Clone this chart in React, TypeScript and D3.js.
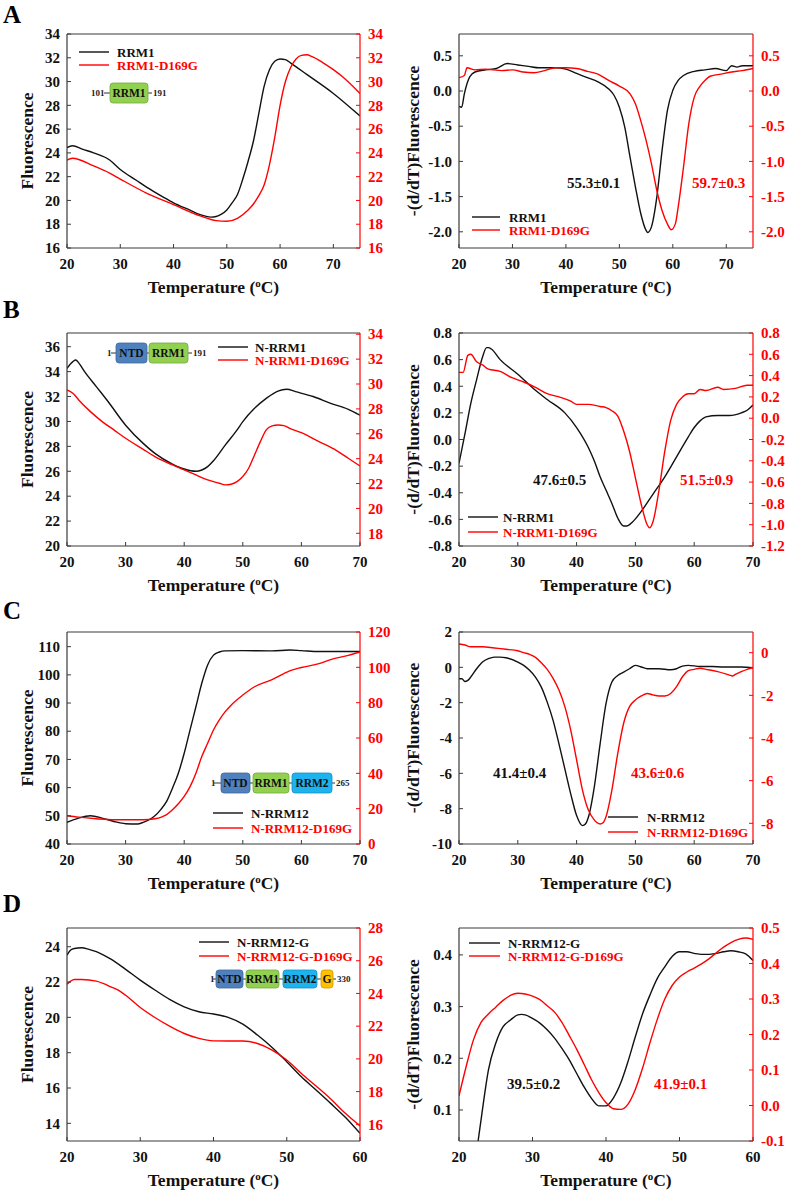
import React from "react";
import * as d3 from "d3";

type Pt = [number, number];

// ---------- Panel A ----------
const aFluoRRM1: Pt[] = [[20,24.44],[21,24.6],[23,24.3],[25,24.0],[28,23.4],[30,22.6],[33,21.7],[35,21.1],[38,20.3],[40,19.8],[43,19.2],[45,18.8],[47,18.6],[48,18.65],[49,18.85],[50,19.2],[51,19.8],[52,20.5],[53,21.8],[54,23.3],[55,25.0],[56,27.3],[57,29.6],[58,31.0],[59,31.7],[60,31.9],[61,31.85],[62,31.55],[65,30.6],[70,29.0],[75,27.1]];
const aFluoD169G: Pt[] = [[20,23.4],[21,23.55],[25,22.9],[28,22.3],[30,21.8],[35,20.6],[40,19.65],[45,18.7],[48,18.3],[50,18.25],[52,18.5],[54,19.2],[55,19.7],[56,20.4],[57,21.3],[58,23.0],[59,25.3],[60,28.0],[61,30.0],[62,31.2],[63,31.9],[64,32.2],[65,32.25],[66,32.1],[68,31.6],[70,31.0],[72,30.3],[75,29.0]];
const aDerivRRM1: Pt[] = [[20,-0.22],[20.5,-0.23],[21,-0.04],[22,0.2],[23,0.27],[25,0.3],[27,0.32],[29,0.39],[31,0.37],[33,0.35],[35,0.33],[38,0.33],[40,0.31],[42,0.25],[44,0.19],[46,0.13],[48,0.03],[49,-0.06],[50,-0.23],[51,-0.51],[52,-0.94],[53,-1.36],[54,-1.74],[55,-1.98],[55.3,-2.01],[56,-1.93],[57,-1.51],[58,-0.84],[59,-0.27],[60,0.01],[61,0.15],[62,0.22],[64,0.28],[66,0.3],[68,0.32],[70,0.29],[71,0.36],[72,0.34],[73,0.36],[75,0.36]];
const aDerivD169G: Pt[] = [[20,0.19],[21,0.22],[21.5,0.33],[23,0.3],[25,0.31],[28,0.29],[30,0.3],[32,0.27],[34,0.26],[36,0.29],[38,0.33],[40,0.33],[42,0.32],[44,0.28],[46,0.24],[48,0.15],[50,0.07],[52,-0.04],[53,-0.18],[54,-0.42],[55,-0.7],[56,-1.03],[57,-1.41],[58,-1.7],[59,-1.89],[59.7,-1.97],[60.5,-1.88],[61,-1.65],[62,-1.08],[63,-0.46],[64,-0.09],[65,0.06],[66,0.15],[67,0.21],[69,0.24],[71,0.27],[73,0.29],[75,0.32]];

// ---------- Panel B ----------
const bFluoNRRM1: Pt[] = [[20,34.26],[21,34.8],[21.5,34.93],[22,34.7],[23,34.0],[25,32.8],[27,31.6],[30,29.7],[33,28.24],[35,27.44],[38,26.58],[40,26.18],[42,26.0],[43,26.1],[44,26.37],[45,26.85],[47,28.1],[49,29.3],[50,29.98],[52,31.05],[54,31.85],[56,32.44],[57.5,32.58],[59,32.39],[62,32.0],[65,31.45],[68,30.97],[70,30.5]];
const bFluoD169G: Pt[] = [[20,29.52],[21,29.26],[22,28.72],[24,27.78],[26,26.98],[28,26.31],[30,25.64],[33,24.75],[35,24.16],[38,23.5],[40,23.1],[42,22.69],[44,22.29],[46,22.02],[47,21.89],[48,21.94],[49,22.15],[50,22.56],[51,23.23],[52,24.3],[53,25.37],[54,26.31],[55,26.63],[56,26.71],[57,26.66],[58,26.44],[60,26.09],[63,25.37],[66,24.65],[68,24.03],[70,23.41]];
const bDerivNRRM1: Pt[] = [[20,-0.18],[21,0.04],[22,0.27],[23,0.45],[24,0.62],[24.7,0.69],[25,0.69],[25.5,0.68],[27,0.6],[30,0.49],[33,0.37],[35,0.3],[38,0.2],[40,0.09],[42,-0.06],[43,-0.16],[44,-0.28],[45,-0.38],[46,-0.48],[47,-0.59],[48,-0.65],[48.5,-0.65],[49.5,-0.62],[51,-0.54],[53,-0.41],[55,-0.28],[57,-0.13],[59,0.02],[60,0.09],[61,0.14],[62,0.17],[64,0.18],[66,0.18],[68,0.2],[69,0.22],[70,0.26]];
const bDerivD169G: Pt[] = [[20,0.43],[20.7,0.43],[21.5,0.59],[22,0.6],[23,0.53],[24,0.5],[25,0.46],[27,0.44],[29,0.38],[31,0.34],[33,0.29],[35,0.23],[37,0.2],[39,0.16],[40,0.13],[42,0.13],[44,0.11],[45,0.1],[46,0.07],[47,0.02],[48,-0.12],[49,-0.31],[50,-0.56],[51,-0.81],[52,-1.0],[52.4,-1.03],[53,-0.97],[54,-0.68],[55,-0.31],[56,-0.02],[57,0.13],[58,0.2],[59,0.23],[60,0.23],[61,0.27],[62,0.26],[64,0.29],[65,0.27],[67,0.28],[69,0.31],[70,0.31]];

// ---------- Panel C ----------
const cFluoNRRM12: Pt[] = [[20,47.67],[22,49.2],[24,50.0],[26,49.2],[28,48.0],[30,47.2],[32,47.1],[33,47.67],[34,48.6],[35,50.0],[36,52.2],[37,55.1],[38,59.8],[39,65.1],[40,72.2],[41,80.5],[42,88.7],[43,97.0],[44,103.5],[45,107.0],[46,108.1],[47,108.5],[50,108.6],[55,108.5],[58,108.8],[60,108.6],[63,108.3],[70,108.3]];
const cFluoD169G: Pt[] = [[20,16.0],[22,15.2],[25,14.3],[28,13.7],[30,13.7],[33,13.7],[35,14.3],[36,15.1],[37,16.6],[38,19.4],[39,22.8],[40,26.9],[41,32.5],[42,40.1],[43,49.5],[44,57.0],[45,64.5],[46,70.2],[47,74.9],[48,78.6],[50,84.3],[52,89.0],[55,93.1],[57,96.5],[58,98.0],[60,99.9],[63,102.1],[65,104.4],[68,106.8],[70,108.7]];
const cDerivNRRM12: Pt[] = [[20,-0.65],[20.5,-0.65],[21,-0.8],[21.5,-0.74],[22,-0.55],[23,-0.08],[24,0.3],[25,0.49],[26,0.58],[27,0.58],[28,0.54],[30,0.3],[31,0.11],[32,-0.17],[33,-0.55],[34,-1.12],[35,-1.97],[36,-3.0],[37,-4.33],[38,-5.75],[39,-7.16],[40,-8.39],[41,-8.96],[41.5,-8.87],[42,-8.49],[43,-6.79],[44,-4.33],[45,-2.06],[46,-0.83],[47,-0.46],[48,-0.27],[49,-0.08],[50,0.11],[51,0.02],[52,-0.08],[54,-0.08],[56,-0.14],[57,-0.08],[58,0.07],[59,0.11],[61,0.05],[63,0.05],[65,0.02],[68,0.02],[70,-0.02]];
const cDerivD169G: Pt[] = [[20,0.41],[21,0.36],[22,0.28],[24,0.28],[26,0.22],[28,0.16],[30,0.09],[31,0.0],[32,-0.08],[33,-0.22],[34,-0.47],[35,-0.78],[36,-1.2],[37,-1.75],[38,-2.53],[39,-3.63],[40,-5.03],[41,-6.44],[42,-7.38],[43,-7.84],[44,-8.03],[44.5,-7.97],[45,-7.69],[46,-6.44],[47,-4.72],[48,-3.31],[49,-2.53],[50,-2.22],[51,-2.03],[52,-1.91],[53,-1.98],[54,-2.03],[55,-2.03],[56,-1.91],[57,-1.59],[58,-1.13],[59,-0.84],[60,-0.78],[61,-0.73],[62,-0.78],[64,-0.89],[66,-1.05],[66.5,-1.09],[67,-1.02],[68,-0.89],[69,-0.78],[70,-0.69]];

// ---------- Panel D ----------
const dFluoNRRM12G: Pt[] = [[20,23.53],[20.5,23.81],[21,23.9],[22,23.94],[23,23.85],[24,23.72],[25,23.53],[26,23.3],[28,22.72],[30,22.11],[32,21.55],[34,21.02],[36,20.6],[38,20.32],[40,20.19],[42,20.0],[44,19.62],[46,19.0],[48,18.3],[50,17.49],[52,16.64],[54,15.89],[56,15.13],[58,14.34],[60,13.43]];
const dFluoD169G: Pt[] = [[20,24.56],[20.5,24.75],[21,24.85],[22,24.85],[24,24.75],[25,24.6],[26,24.4],[27,24.2],[28,23.89],[30,23.14],[32,22.53],[34,22.0],[36,21.55],[38,21.25],[40,21.1],[42,21.09],[44,21.09],[46,20.94],[48,20.54],[50,19.93],[52,19.11],[54,18.34],[56,17.55],[58,16.67],[60,15.9]];
const dDerivNRRM12G: Pt[] = [[22.2,0.0],[22.6,0.04],[23,0.081],[23.5,0.132],[24,0.177],[25,0.229],[26,0.261],[27,0.274],[28,0.284],[28.5,0.285],[29,0.284],[30,0.277],[31,0.268],[32,0.255],[33,0.239],[34,0.219],[35,0.197],[36,0.171],[37,0.145],[38,0.123],[39,0.108],[40,0.108],[41,0.123],[42,0.152],[43,0.194],[44,0.242],[45,0.287],[46,0.323],[47,0.355],[48,0.377],[49,0.397],[50,0.406],[51,0.406],[52,0.403],[53,0.401],[54,0.401],[55,0.403],[56,0.406],[57,0.408],[58,0.406],[59,0.402],[60,0.389]];
const dDerivD169G: Pt[] = [[20,0.027],[21,0.112],[22,0.187],[23,0.234],[24,0.258],[25,0.277],[26,0.296],[27,0.31],[28,0.316],[29,0.314],[30,0.308],[31,0.298],[32,0.281],[33,0.263],[34,0.234],[35,0.197],[36,0.159],[37,0.117],[38,0.074],[39,0.037],[40,0.008],[41,-0.009],[42,-0.011],[43,0.004],[44,0.046],[45,0.107],[46,0.178],[47,0.244],[48,0.3],[49,0.338],[50,0.362],[51,0.376],[52,0.387],[53,0.399],[54,0.413],[55,0.43],[56,0.446],[57,0.459],[58,0.468],[59,0.472],[60,0.468]];

// ---------- Tick values ----------
const xTicks75 = [20, 30, 40, 50, 60, 70];
const xTicks70 = [20, 30, 40, 50, 60, 70];
const xTicks60 = [20, 30, 40, 50, 60];
const aFluoTicks = [16, 18, 20, 22, 24, 26, 28, 30, 32, 34];
const aDerivTicks = [-2.0, -1.5, -1.0, -0.5, 0.0, 0.5];
const bFluoLeftTicks = [20, 22, 24, 26, 28, 30, 32, 34, 36];
const bFluoRightTicks = [18, 20, 22, 24, 26, 28, 30, 32, 34];
const bDerivLeftTicks = [-0.8, -0.6, -0.4, -0.2, 0.0, 0.2, 0.4, 0.6, 0.8];
const bDerivRightTicks = [-1.2, -1.0, -0.8, -0.6, -0.4, -0.2, 0.0, 0.2, 0.4, 0.6, 0.8];
const cFluoLeftTicks = [40, 50, 60, 70, 80, 90, 100, 110];
const cFluoRightTicks = [0, 20, 40, 60, 80, 100, 120];
const cDerivLeftTicks = [-10, -8, -6, -4, -2, 0, 2];
const cDerivRightTicks = [-8, -6, -4, -2, 0];
const dFluoLeftTicks = [14, 16, 18, 20, 22, 24];
const dFluoRightTicks = [16, 18, 20, 22, 24, 26, 28];
const dDerivLeftTicks = [0.1, 0.2, 0.3, 0.4];
const dDerivRightTicks = [-0.1, 0.0, 0.1, 0.2, 0.3, 0.4, 0.5];

// ---------- Labels ----------
const tmAnnotations = {
  a: ["55.3±0.1", "59.7±0.3"],
  b: ["47.6±0.5", "51.5±0.9"],
  c: ["41.4±0.4", "43.6±0.6"],
  d: ["39.5±0.2", "41.9±0.1"],
};
const legendNames = {
  a: ["RRM1", "RRM1-D169G"],
  b: ["N-RRM1", "N-RRM1-D169G"],
  c: ["N-RRM12", "N-RRM12-D169G"],
  d: ["N-RRM12-G", "N-RRM12-G-D169G"],
};

const FONT = "'Liberation Serif', 'Times New Roman', Times, serif";
const RED = "#ff0000";
const FRAME = "#3a3a3a";

const C_NTD = "#4f81bd";
const C_RRM1 = "#92d050";
const C_RRM2 = "#1cb3ee";
const C_G = "#ffc000";

type Diag = {
  y0: number; y1: number;
  start: string; startX: number;
  end: string; endX: number;
  lineX0: number; lineX1: number;
  boxes: { label: string; x0: number; x1: number; fill: string }[];
};

type PanelCfg = {
  id: string;
  x0: number; x1: number; y0: number; y1: number;
  xDom: [number, number]; xTicks: number[];
  lDom: [number, number]; lTicks: number[]; lDec: number;
  rDom: [number, number]; rTicks: number[]; rDec: number;
  black: Pt[]; red: Pt[];
  yLabel: string; yLabelX: number;
  legend: { x0: number; x1: number; tx: number; y: [number, number]; names: string[] };
  ann?: { names: string[]; bx: number; rx: number; y: number };
  diag?: Diag;
  letter?: { t: string; y: number };
};

const rowA = { y0: 34, y1: 248 };
const rowB = { y0: 333, y1: 546 };
const rowC = { y0: 632, y1: 844 };
const rowD = { y0: 928, y1: 1141 };
const colL = { x0: 67, x1: 360 };
const colR = { x0: 459, x1: 753 };

const panels: PanelCfg[] = [
  {
    id: "aL", ...colL, ...rowA, xDom: [20, 75], xTicks: xTicks75,
    lDom: [16, 34], lTicks: aFluoTicks, lDec: 0, rDom: [16, 34], rTicks: aFluoTicks, rDec: 0,
    black: aFluoRRM1, red: aFluoD169G, yLabel: "Fluorescence", yLabelX: 27,
    legend: { x0: 79, x1: 109, tx: 117, y: [52, 65], names: legendNames.a },
    diag: { y0: 83, y1: 103, start: "101", startX: 91, end: "191", endX: 153, lineX0: 104, lineX1: 152,
      boxes: [{ label: "RRM1", x0: 110, x1: 148, fill: C_RRM1 }] },
    letter: { t: "A", y: 23 },
  },
  {
    id: "aR", ...colR, ...rowA, xDom: [20, 75], xTicks: xTicks75,
    lDom: [-2.23, 0.81], lTicks: aDerivTicks, lDec: 1, rDom: [-2.23, 0.81], rTicks: aDerivTicks, rDec: 1,
    black: aDerivRRM1, red: aDerivD169G, yLabel: "-(d/dT)Fluorescence", yLabelX: 413,
    legend: { x0: 472, x1: 500, tx: 509, y: [217, 230], names: legendNames.a },
    ann: { names: tmAnnotations.a, bx: 567, rx: 692, y: 188 },
  },
  {
    id: "bL", ...colL, ...rowB, xDom: [20, 70], xTicks: xTicks70,
    lDom: [20, 37.1], lTicks: bFluoLeftTicks, lDec: 0, rDom: [16.98, 34.1], rTicks: bFluoRightTicks, rDec: 0,
    black: bFluoNRRM1, red: bFluoD169G, yLabel: "Fluorescence", yLabelX: 27,
    legend: { x0: 218, x1: 248, tx: 255, y: [347, 360], names: legendNames.b },
    diag: { y0: 343, y1: 363, start: "1", startX: 107, end: "191", endX: 193, lineX0: 111, lineX1: 192,
      boxes: [{ label: "NTD", x0: 116, x1: 147, fill: C_NTD }, { label: "RRM1", x0: 149, x1: 188, fill: C_RRM1 }] },
    letter: { t: "B", y: 318 },
  },
  {
    id: "bR", ...colR, ...rowB, xDom: [20, 70], xTicks: xTicks70,
    lDom: [-0.8, 0.8], lTicks: bDerivLeftTicks, lDec: 1, rDom: [-1.2, 0.8], rTicks: bDerivRightTicks, rDec: 1,
    black: bDerivNRRM1, red: bDerivD169G, yLabel: "-(d/dT)Fluorescence", yLabelX: 413,
    legend: { x0: 468, x1: 498, tx: 503, y: [517, 532], names: legendNames.b },
    ann: { names: tmAnnotations.b, bx: 533, rx: 680, y: 485 },
  },
  {
    id: "cL", ...colL, ...rowC, xDom: [20, 70], xTicks: xTicks70,
    lDom: [40, 115.2], lTicks: cFluoLeftTicks, lDec: 0, rDom: [0, 120], rTicks: cFluoRightTicks, rDec: 0,
    black: cFluoNRRM12, red: cFluoD169G, yLabel: "Fluorescence", yLabelX: 27,
    legend: { x0: 213, x1: 243, tx: 251, y: [813, 828], names: legendNames.c },
    diag: { y0: 773, y1: 793, start: "1", startX: 211, end: "265", endX: 336, lineX0: 214, lineX1: 335,
      boxes: [{ label: "NTD", x0: 221, x1: 250, fill: C_NTD }, { label: "RRM1", x0: 253, x1: 289, fill: C_RRM1 }, { label: "RRM2", x0: 292, x1: 332, fill: C_RRM2 }] },
    letter: { t: "C", y: 619 },
  },
  {
    id: "cR", ...colR, ...rowC, xDom: [20, 70], xTicks: xTicks70,
    lDom: [-10, 2], lTicks: cDerivLeftTicks, lDec: 0, rDom: [-8.97, 0.97], rTicks: cDerivRightTicks, rDec: 0,
    black: cDerivNRRM12, red: cDerivD169G, yLabel: "-(d/dT)Fluorescence", yLabelX: 413,
    legend: { x0: 608, x1: 638, tx: 647, y: [817, 832], names: legendNames.c },
    ann: { names: tmAnnotations.c, bx: 493, rx: 631, y: 778 },
  },
  {
    id: "dL", ...colL, ...rowD, xDom: [20, 60], xTicks: xTicks60,
    lDom: [13.0, 25.06], lTicks: dFluoLeftTicks, lDec: 0, rDom: [14.98, 28], rTicks: dFluoRightTicks, rDec: 0,
    black: dFluoNRRM12G, red: dFluoD169G, yLabel: "Fluorescence", yLabelX: 27,
    legend: { x0: 199, x1: 229, tx: 237, y: [942, 956], names: legendNames.d },
    diag: { y0: 970, y1: 988, start: "1", startX: 210, end: "330", endX: 337, lineX0: 213, lineX1: 336,
      boxes: [{ label: "NTD", x0: 216, x1: 243, fill: C_NTD }, { label: "RRM1", x0: 246, x1: 279, fill: C_RRM1 }, { label: "RRM2", x0: 283, x1: 317, fill: C_RRM2 }, { label: "G", x0: 321, x1: 333, fill: C_G }] },
    letter: { t: "D", y: 912 },
  },
  {
    id: "dR", ...colR, ...rowD, xDom: [20, 60], xTicks: xTicks60,
    lDom: [0.04, 0.452], lTicks: dDerivLeftTicks, lDec: 1, rDom: [-0.1, 0.5], rTicks: dDerivRightTicks, rDec: 1,
    black: dDerivNRRM12G, red: dDerivD169G, yLabel: "-(d/dT)Fluorescence", yLabelX: 413,
    legend: { x0: 469, x1: 500, tx: 508, y: [943, 956], names: legendNames.d },
    ann: { names: tmAnnotations.d, bx: 507, rx: 654, y: 1089 },
  },
];

function fmt(v: number, dec: number) {
  const s = v.toFixed(dec);
  return s === "-0.0" || s === "-0" ? s.slice(1) : s;
}

function Diagram({ d }: { d: Diag }) {
  const ym = (d.y0 + d.y1) / 2;
  return (
    <g fontFamily={FONT}>
      <line x1={d.lineX0} x2={d.lineX1} y1={ym} y2={ym} stroke="#333" strokeWidth={1} />
      <text x={d.startX} y={ym} dy="0.35em" fontSize={9} fontWeight="bold" fill="#222">{d.start}</text>
      <text x={d.endX} y={ym} dy="0.35em" fontSize={9} fontWeight="bold" fill="#222">{d.end}</text>
      {d.boxes.map((b) => (
        <g key={b.label}>
          <rect x={b.x0} y={d.y0} width={b.x1 - b.x0} height={d.y1 - d.y0} rx={3} ry={3}
            fill={b.fill} stroke={d3.color(b.fill)!.darker(0.6).toString()} strokeWidth={0.8} />
          <text x={(b.x0 + b.x1) / 2} y={ym} dy="0.36em" textAnchor="middle" fontSize={11.5} fontWeight="bold" fill="#111">{b.label}</text>
        </g>
      ))}
    </g>
  );
}

function Panel({ p }: { p: PanelCfg }) {
  const x = d3.scaleLinear().domain(p.xDom).range([p.x0, p.x1]);
  const yl = d3.scaleLinear().domain(p.lDom).range([p.y1, p.y0]);
  const yr = d3.scaleLinear().domain(p.rDom).range([p.y1, p.y0]);
  const lineL = d3.line<Pt>().x((d) => x(d[0])).y((d) => yl(d[1])).curve(d3.curveMonotoneX);
  const lineR = d3.line<Pt>().x((d) => x(d[0])).y((d) => yr(d[1])).curve(d3.curveMonotoneX);
  const tk = 4;
  const cx = (p.x0 + p.x1) / 2;
  const cy = (p.y0 + p.y1) / 2;
  return (
    <g fontFamily={FONT} fontWeight="bold">
      <defs>
        <clipPath id={"clip-" + p.id}>
          <rect x={p.x0} y={p.y0} width={p.x1 - p.x0} height={p.y1 - p.y0} />
        </clipPath>
      </defs>
      <g clipPath={`url(#clip-${p.id})`} fill="none">
        <path d={lineL(p.black) || ""} stroke="#111" strokeWidth={1.4} />
        <path d={lineR(p.red) || ""} stroke={RED} strokeWidth={1.4} />
      </g>
      {/* frame */}
      <line x1={p.x0} x2={p.x1} y1={p.y0} y2={p.y0} stroke={FRAME} strokeWidth={1.2} />
      <line x1={p.x0} x2={p.x1} y1={p.y1} y2={p.y1} stroke={FRAME} strokeWidth={1.2} />
      <line x1={p.x0} x2={p.x0} y1={p.y0} y2={p.y1} stroke={FRAME} strokeWidth={1.2} />
      <line x1={p.x1} x2={p.x1} y1={p.y0} y2={p.y1} stroke={RED} strokeWidth={1.2} />
      {/* x ticks */}
      {p.xTicks.map((t) => (
        <g key={"x" + t}>
          <line x1={x(t)} x2={x(t)} y1={p.y1} y2={p.y1 - tk} stroke={FRAME} strokeWidth={1} />
          <text x={x(t)} y={p.y1 + 21} textAnchor="middle" fontSize={15} fill="#111">{t}</text>
        </g>
      ))}
      {/* left ticks */}
      {p.lTicks.map((t) => (
        <g key={"l" + t}>
          <line x1={p.x0} x2={p.x0 + tk} y1={yl(t)} y2={yl(t)} stroke={FRAME} strokeWidth={1} />
          <text x={p.x0 - 7} y={yl(t)} dy="0.35em" textAnchor="end" fontSize={15} fill="#111">{fmt(t, p.lDec)}</text>
        </g>
      ))}
      {/* right ticks */}
      {p.rTicks.map((t) => (
        <g key={"r" + t}>
          <line x1={p.x1} x2={p.x1 - tk} y1={yr(t)} y2={yr(t)} stroke={RED} strokeWidth={1} />
          <text x={p.x1 + 8} y={yr(t)} dy="0.35em" textAnchor="start" fontSize={15} fill={RED}>{fmt(t, p.rDec)}</text>
        </g>
      ))}
      {/* axis labels */}
      <text x={cx} y={p.y1 + 45} textAnchor="middle" fontSize={17.5} fill="#111">
        Temperature (<tspan fontSize={11} dy={-6}>o</tspan><tspan dy={6}>C)</tspan>
      </text>
      <text transform={`translate(${p.yLabelX},${cy}) rotate(-90)`} textAnchor="middle" dy="0.35em" fontSize={17.5} fill="#111">{p.yLabel}</text>
      {/* legend */}
      <line x1={p.legend.x0} x2={p.legend.x1} y1={p.legend.y[0]} y2={p.legend.y[0]} stroke="#111" strokeWidth={1.4} />
      <line x1={p.legend.x0} x2={p.legend.x1} y1={p.legend.y[1]} y2={p.legend.y[1]} stroke={RED} strokeWidth={1.4} />
      <text x={p.legend.tx} y={p.legend.y[0]} dy="0.35em" fontSize={13} fill="#111">{p.legend.names[0]}</text>
      <text x={p.legend.tx} y={p.legend.y[1]} dy="0.35em" fontSize={13} fill={RED}>{p.legend.names[1]}</text>
      {p.ann && (
        <g fontSize={15}>
          <text x={p.ann.bx} y={p.ann.y} fill="#111">{p.ann.names[0]}</text>
          <text x={p.ann.rx} y={p.ann.y} fill={RED}>{p.ann.names[1]}</text>
        </g>
      )}
      {p.diag && <Diagram d={p.diag} />}
      {p.letter && (
        <text x={3} y={p.letter.y} fontSize={25} fill="#000">{p.letter.t}</text>
      )}
    </g>
  );
}

export default function App() {
  return (
    <svg width={787} height={1194} style={{ position: "absolute", left: 0, top: 0, background: "#fff" }}>
      <rect width={787} height={1194} fill="#fff" />
      {panels.map((p) => (
        <Panel key={p.id} p={p} />
      ))}
    </svg>
  );
}
